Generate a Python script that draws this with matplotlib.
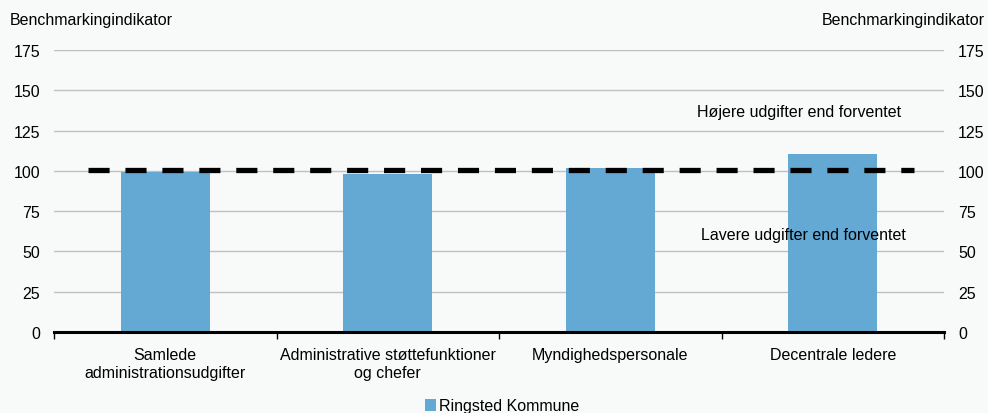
import numpy as np
import matplotlib.pyplot as plt

plt.rcParams['font.family'] = ['Liberation Sans', 'DejaVu Sans']
plt.rcParams['font.size'] = 11.5

categories = ['Samlede\nadministrationsudgifter',
              'Administrative støttefunktioner\nog chefer',
              'Myndighedspersonale',
              'Decentrale ledere']
values = [99.0, 98.0, 101.5, 110.5]
benchmark = 100.5
yticks = [0, 25, 50, 75, 100, 125, 150, 175]

bg = '#f8f9f9'
barcol = '#63a9d4'

fig = plt.figure(figsize=(9.88, 4.14), dpi=100, facecolor=bg)
ax = fig.add_axes([54/988, 1-333/414, 890/988, (333-51)/414])
ax.set_facecolor(bg)

x = np.arange(len(categories))
ax.bar(x, values, width=0.4, color=barcol, zorder=2, label='Ringsted Kommune')
ax.plot([-0.347, 3.365], [benchmark, benchmark], color='black', lw=3.8,
        dashes=(4.0, 3.0), solid_capstyle='butt', dash_capstyle='butt', zorder=3)

ax.set_xlim(-0.5, 3.5)
ax.set_ylim(0, 175)
ax.set_yticks(yticks)
ax.yaxis.grid(True, color='#c0c0c0', lw=1, zorder=0)
ax.set_axisbelow(True)
for s in ['top', 'right', 'left']:
    ax.spines[s].set_visible(False)
ax.spines['bottom'].set_linewidth(2.2)
ax.spines['bottom'].set_zorder(4)

ax.set_xticks(np.arange(-0.5, 3.6, 1))
ax.set_xticklabels([])
ax.tick_params(axis='x', direction='out', length=5, width=1, color='black')
ax.set_xticks(x, minor=True)
ax.set_xticklabels(categories, minor=True)
ax.tick_params(axis='x', which='minor', length=0, pad=11)
ax.tick_params(axis='y', length=0, pad=10)

ax2 = ax.twinx()
ax2.set_ylim(0, 175)
ax2.set_yticks(yticks)
for s in ['top', 'right', 'left', 'bottom']:
    ax2.spines[s].set_visible(False)
ax2.tick_params(axis='y', length=0, pad=10)

fig.text(10/988, 1-20/414, 'Benchmarkingindikator', ha='left', va='center')
fig.text(985/988, 1-20/414, 'Benchmarkingindikator', ha='right', va='center')

ax.text(2.85, 137, 'Højere udgifter end forventet', ha='center', va='center')
ax.text(2.87, 60.5, 'Lavere udgifter end forventet', ha='center', va='center')

fig.legend(loc='center', bbox_to_anchor=(502/988, 1-407/414), frameon=False,
           handlelength=0.7, handleheight=0.7, handletextpad=0.2)

fig.savefig('out.png', dpi=100, facecolor=bg)
